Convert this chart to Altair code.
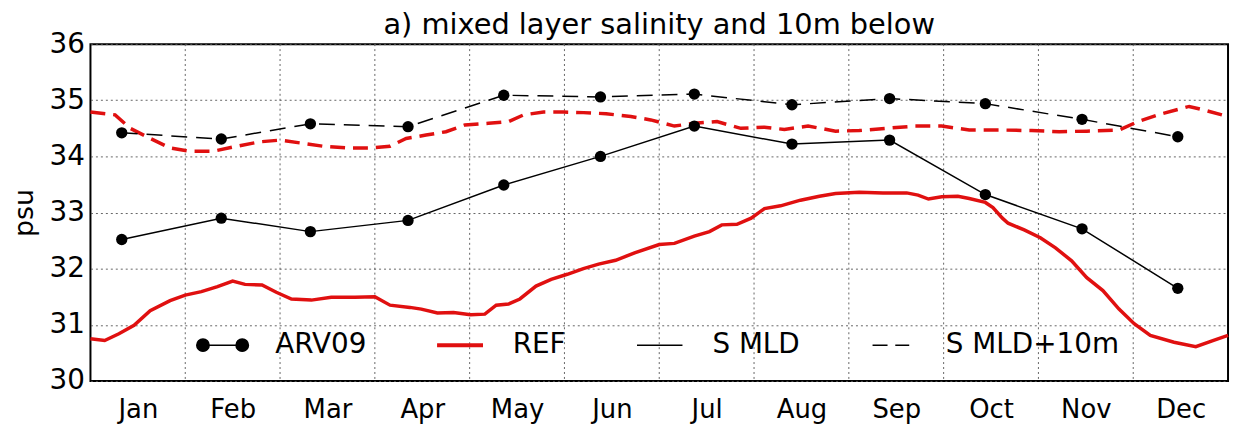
import altair as alt
import pandas as pd

FONT = "DejaVu Sans"

title_text = ["a) mixed layer salinity and 10m below"]
months = ["Jan", "Feb", "Mar", "Apr", "May", "Jun", "Jul", "Aug", "Sep", "Oct", "Nov", "Dec"]
month_bounds = [1, 2, 3, 4, 5, 6, 7, 8, 9, 10, 11]
month_centers = [0.5, 1.5, 2.5, 3.5, 4.5, 5.5, 6.5, 7.5, 8.5, 9.5, 10.5, 11.5]
y_ticks = [30, 31, 32, 33, 34, 35, 36]

# REF, mixed-layer salinity (solid red)
ref_x = [0.0, 0.15, 0.30, 0.46, 0.63, 0.84, 1.0, 1.17, 1.34, 1.50, 1.63, 1.81, 1.96, 2.12, 2.33,
         2.54, 2.79, 3.0, 3.16, 3.37, 3.49, 3.66, 3.83, 4.01, 4.16, 4.28, 4.41, 4.53, 4.70, 4.86,
         5.03, 5.20, 5.36, 5.54, 5.74, 6.0, 6.16, 6.37, 6.53, 6.66, 6.82, 6.97, 7.11, 7.28, 7.49,
         7.69, 7.86, 8.11, 8.36, 8.61, 8.73, 8.84, 8.98, 9.15, 9.27, 9.44, 9.52, 9.62, 9.68, 9.85,
         10.02, 10.18, 10.35, 10.51, 10.68, 10.85, 11.01, 11.18, 11.43, 11.66, 11.84, 12.0]
ref_s = [30.75, 30.72, 30.84, 30.99, 31.25, 31.43, 31.53, 31.59, 31.68, 31.78, 31.72, 31.71, 31.58,
         31.46, 31.44, 31.49, 31.49, 31.50, 31.35, 31.31, 31.28, 31.21, 31.22, 31.18, 31.19, 31.35,
         31.37, 31.46, 31.69, 31.81, 31.90, 32.00, 32.08, 32.15, 32.28, 32.43, 32.45, 32.58, 32.66,
         32.78, 32.79, 32.90, 33.07, 33.12, 33.22, 33.29, 33.34, 33.36, 33.35, 33.35, 33.31, 33.24,
         33.28, 33.29, 33.25, 33.18, 33.09, 32.90, 32.81, 32.69, 32.55, 32.37, 32.14, 31.84, 31.61,
         31.28, 31.02, 30.81, 30.69, 30.61, 30.72, 30.81]

# REF, salinity 10 m below the mixed layer (dashed red)
ref10_x = [0.0, 0.26, 0.42, 0.63, 0.84, 1.05, 1.29, 1.54, 1.79, 2.0, 2.21, 2.46, 2.71, 2.95, 3.16,
           3.33, 3.54, 3.75, 3.95, 4.2, 4.41, 4.57, 4.78, 4.99, 5.2, 5.44, 5.7, 5.91, 6.16, 6.37,
           6.61, 6.86, 7.11, 7.32, 7.57, 7.86, 8.11, 8.4, 8.69, 8.98, 9.27, 9.6, 9.93, 10.22,
           10.51, 10.85, 11.05, 11.3, 11.59, 11.76, 12.0]
ref10_s = [34.79, 34.74, 34.50, 34.32, 34.15, 34.09, 34.09, 34.18, 34.26, 34.29, 34.24, 34.18,
           34.15, 34.15, 34.18, 34.32, 34.38, 34.44, 34.56, 34.59, 34.62, 34.74, 34.79, 34.79,
           34.78, 34.76, 34.71, 34.65, 34.54, 34.59, 34.62, 34.50, 34.52, 34.48, 34.54, 34.45,
           34.46, 34.50, 34.54, 34.54, 34.47, 34.47, 34.46, 34.44, 34.45, 34.47, 34.62, 34.76,
           34.89, 34.82, 34.71]

# ARV09 monthly values
arv_x = [0.33, 1.38, 2.32, 3.35, 4.36, 5.38, 6.37, 7.40, 8.43, 9.44, 10.46, 11.47]
arv_mld = [32.52, 32.90, 32.66, 32.86, 33.49, 34.00, 34.54, 34.22, 34.29, 33.32, 32.71, 31.65]
arv_mld10 = [34.42, 34.31, 34.58, 34.53, 35.09, 35.06, 35.11, 34.92, 35.03, 34.94, 34.66, 34.35]

legend_items = ["ARV09", "REF", "S MLD", "S MLD+10m"]
legend_colors = ["black", "#e01010", "black", "black"]
legend_paths = [
    "M-0.76,0 L0.76,0 M-0.52,0 A0.24,0.24 0 1,0 -1,0 A0.24,0.24 0 1,0 -0.52,0 Z "
    "M1,0 A0.24,0.24 0 1,0 0.52,0 A0.24,0.24 0 1,0 1,0 Z",
    "M-0.86,-0.05 L0.86,-0.05 L0.86,0.05 L-0.86,0.05 Z",
    "M-0.88,0 L0.88,0",
    "M-0.8,0 L-0.22,0 M0.08,0 L0.62,0",
]

ref_df = pd.DataFrame({"m": ref_x, "s": ref_s})
ref10_df = pd.DataFrame({"m": ref10_x, "s": ref10_s})
arv_df = pd.DataFrame({"m": arv_x, "mld": arv_mld, "mld10": arv_mld10})
bounds_df = pd.DataFrame({"b": month_bounds})
leg_df = pd.DataFrame({"item": legend_items})
title_df = pd.DataFrame({"t": title_text})

xs = alt.Scale(domain=[0, 12], nice=False, zero=False)
ys = alt.Scale(domain=[30, 36], nice=False, zero=False)

month_expr = "[" + ",".join("'%s'" % m for m in months) + "][floor(datum.value)]"
x_axis = alt.Axis(values=month_centers, labelExpr=month_expr, grid=False, ticks=False,
                  domain=False, title=None, labelFontSize=26, labelPadding=16,
                  labelFont=FONT, labelColor="black")
y_axis = alt.Axis(values=y_ticks, grid=True, gridDash=[2, 3], gridColor="#555555",
                  gridOpacity=0.9, ticks=False, domain=False, title="psu",
                  titleFontSize=27, titleFont=FONT, titleFontWeight="normal",
                  titleColor="black", titlePadding=11, labelFontSize=28,
                  labelFont=FONT, labelColor="black", labelPadding=6)


def X(f):
    return alt.X(f, type="quantitative", scale=xs, axis=x_axis)


def Y(f):
    return alt.Y(f, type="quantitative", scale=ys, axis=y_axis)


vgrid = alt.Chart(bounds_df).mark_rule(color="#555555", strokeDash=[2, 3], strokeWidth=1,
                                       opacity=0.9).encode(x=X("b"))

ref_line = alt.Chart(ref_df).mark_line(color="#e01010", strokeWidth=3.5).encode(
    x=X("m"), y=Y("s"))
ref10_line = alt.Chart(ref10_df).mark_line(color="#e01010", strokeWidth=3.5,
                                           strokeDash=[15, 8]).encode(x=X("m"), y=Y("s"))

mld_line = alt.Chart(arv_df).mark_line(color="black", strokeWidth=1.5).encode(
    x=X("m"), y=Y("mld"))
mld_pts = alt.Chart(arv_df).mark_point(filled=True, color="black", size=130, opacity=1).encode(
    x=X("m"), y=Y("mld"))
mld10_line = alt.Chart(arv_df).mark_line(color="black", strokeWidth=1.5,
                                         strokeDash=[16, 9]).encode(x=X("m"), y=Y("mld10"))
mld10_pts = alt.Chart(arv_df).mark_point(filled=True, color="black", size=130, opacity=1).encode(
    x=X("m"), y=Y("mld10"))

leg = alt.Legend(orient="none", legendX=106, legendY=276, direction="horizontal", title=None,
                 labelFontSize=28, labelFont=FONT, labelColor="black", labelOffset=26,
                 labelLimit=400, columnPadding=67, padding=0, symbolSize=2704,
                 symbolStrokeWidth=1.5, symbolOpacity=1)
legend_layer = alt.Chart(leg_df).mark_point(filled=True, clip=True, strokeWidth=1.5).encode(
    x=alt.value(-500), y=alt.value(-500),
    shape=alt.Shape("item:N", scale=alt.Scale(domain=legend_items, range=legend_paths), legend=leg),
    fill=alt.Fill("item:N", scale=alt.Scale(domain=legend_items, range=legend_colors), legend=leg),
    stroke=alt.Stroke("item:N", scale=alt.Scale(domain=legend_items, range=legend_colors), legend=leg),
)

# chart title, drawn as a text mark centred over the plot area
title_layer = alt.Chart(title_df).mark_text(
    font=FONT, fontSize=29, color="black", align="center", baseline="alphabetic"
).encode(text="t:N", x=alt.value(572.5), y=alt.value(-10))

chart = alt.layer(vgrid, ref_line, ref10_line, mld_line, mld10_line, mld_pts, mld10_pts,
                  legend_layer, title_layer).properties(
    width=1145, height=339,
    autosize=alt.AutoSizeParams(type="none"),
    padding={"left": 83, "top": 35, "right": 4, "bottom": 46},
    background="white",
).configure_view(stroke="black", strokeWidth=2)

chart.save("out.html", embed_options={"renderer": "svg", "actions": False})
